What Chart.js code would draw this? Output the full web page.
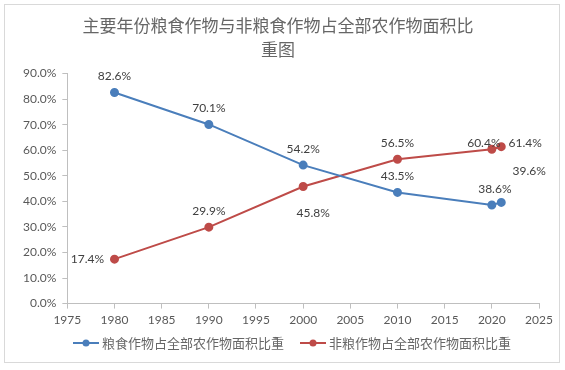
<!DOCTYPE html>
<html lang="zh">
<head>
<meta charset="UTF-8">
<title>主要年份粮食作物与非粮食作物占全部农作物面积比重图</title>
<script src="https://cdn.jsdelivr.net/npm/chart.js"></script>
<style>
    body { margin: 0; padding: 0; background: #fff; }
    #wrap { width: 565px; height: 370px; }
</style>
</head>
<body>
<div id="wrap"><canvas id="myChart" width="565" height="370"></canvas></div>
<script>
    // data
    const years = [1980, 1990, 2000, 2010, 2020, 2021];
    const grainShare = [82.6, 70.1, 54.2, 43.5, 38.6, 39.6];
    const nonGrainShare = [17.4, 29.9, 45.8, 56.5, 60.4, 61.4];
    const seriesNames = ['粮食作物占全部农作物面积比重', '非粮作物占全部农作物面积比重'];
    const titleLines = ['主要年份粮食作物与非粮食作物占全部农作物面积比', '重图'];

    // label offsets (dx, dy) from each point
    const grainLabelOffsets = [[0, -16], [0, -16], [0, -16], [0, -16], [3, -16], [28, -31]];
    const nonGrainLabelOffsets = [[-27, 0], [0, -16], [10, 27], [0, -16], [-8, -6], [24, -4]];

    const blue = '#4a7ebb';
    const red = '#be4b48';
    const textGray = '#595959';
    const font = 'Lato, "Noto Sans CJK SC", sans-serif';

    function toPoints(vals) {
        return years.map((y, i) => ({ x: y, y: vals[i] }));
    }

    // frame, value labels and legend
    const decorPlugin = {
        id: 'decor',
        beforeDraw(chart) {
            const ctx = chart.ctx;
            ctx.save();
            ctx.strokeStyle = '#d9d9d9';
            ctx.lineWidth = 1;
            ctx.strokeRect(4.5, 4.5, 555, 358);
            ctx.restore();
        },
        afterDatasetsDraw(chart) {
            const ctx = chart.ctx;
            const offsets = [grainLabelOffsets, nonGrainLabelOffsets];
            ctx.save();
            ctx.font = '12px ' + font;
            ctx.fillStyle = '#404040';
            ctx.textAlign = 'center';
            ctx.textBaseline = 'middle';
            chart.data.datasets.forEach((ds, di) => {
                const meta = chart.getDatasetMeta(di);
                meta.data.forEach((pt, i) => {
                    const off = offsets[di][i];
                    ctx.fillText(ds.data[i].y.toFixed(1) + '%', pt.x + off[0], pt.y + off[1]);
                });
            });
            ctx.restore();
        },
        afterDraw(chart) {
            const ctx = chart.ctx;
            const y = 343;
            const items = [
                { x: 73, color: blue, text: seriesNames[0] },
                { x: 300, color: red, text: seriesNames[1] }
            ];
            ctx.save();
            items.forEach(it => {
                ctx.strokeStyle = it.color;
                ctx.lineWidth = 2;
                ctx.beginPath();
                ctx.moveTo(it.x, y);
                ctx.lineTo(it.x + 26, y);
                ctx.stroke();
                ctx.fillStyle = it.color;
                ctx.beginPath();
                ctx.arc(it.x + 13, y, 3.5, 0, Math.PI * 2);
                ctx.fill();
                ctx.fillStyle = '#666';
                ctx.font = '13px "Noto Sans CJK SC", sans-serif';
                ctx.textBaseline = 'middle';
                ctx.textAlign = 'left';
                ctx.fillText(it.text, it.x + 29, y);
            });
            ctx.restore();
        }
    };

    new Chart(document.getElementById('myChart'), {
        type: 'scatter',
        data: {
            datasets: [{
                label: seriesNames[0],
                data: toPoints(grainShare),
                showLine: true,
                borderColor: blue,
                backgroundColor: blue,
                borderWidth: 2,
                pointRadius: 3.5,
                tension: 0
            }, {
                label: seriesNames[1],
                data: toPoints(nonGrainShare),
                showLine: true,
                borderColor: red,
                backgroundColor: red,
                borderWidth: 2,
                pointRadius: 3.5,
                tension: 0
            }]
        },
        options: {
            responsive: false,
            animation: false,
            layout: { padding: { left: 17, right: 26, top: 0, bottom: 39 } },
            plugins: {
                legend: { display: false },
                tooltip: { enabled: false },
                title: {
                    display: true,
                    text: titleLines,
                    color: '#666',
                    font: { family: '"Noto Sans CJK SC", sans-serif', size: 17, weight: 'normal', lineHeight: 1.4 },
                    padding: { top: 14, bottom: 12 }
                }
            },
            scales: {
                x: {
                    type: 'linear',
                    min: 1975,
                    max: 2025,
                    ticks: {
                        stepSize: 5,
                        color: textGray,
                        font: { family: font, size: 12 },
                        padding: 4,
                        maxRotation: 0,
                        callback: v => String(v)
                    },
                    grid: { drawOnChartArea: false, tickLength: 5, color: '#bfbfbf' },
                    border: { color: '#bfbfbf' }
                },
                y: {
                    min: 0,
                    max: 90,
                    ticks: {
                        stepSize: 10,
                        color: textGray,
                        font: { family: font, size: 12 },
                        padding: 6,
                        callback: v => v.toFixed(1) + '%'
                    },
                    grid: { drawOnChartArea: false, tickLength: 5, color: '#bfbfbf' },
                    border: { color: '#bfbfbf' }
                }
            }
        },
        plugins: [decorPlugin]
    });
</script>
</body>
</html>
